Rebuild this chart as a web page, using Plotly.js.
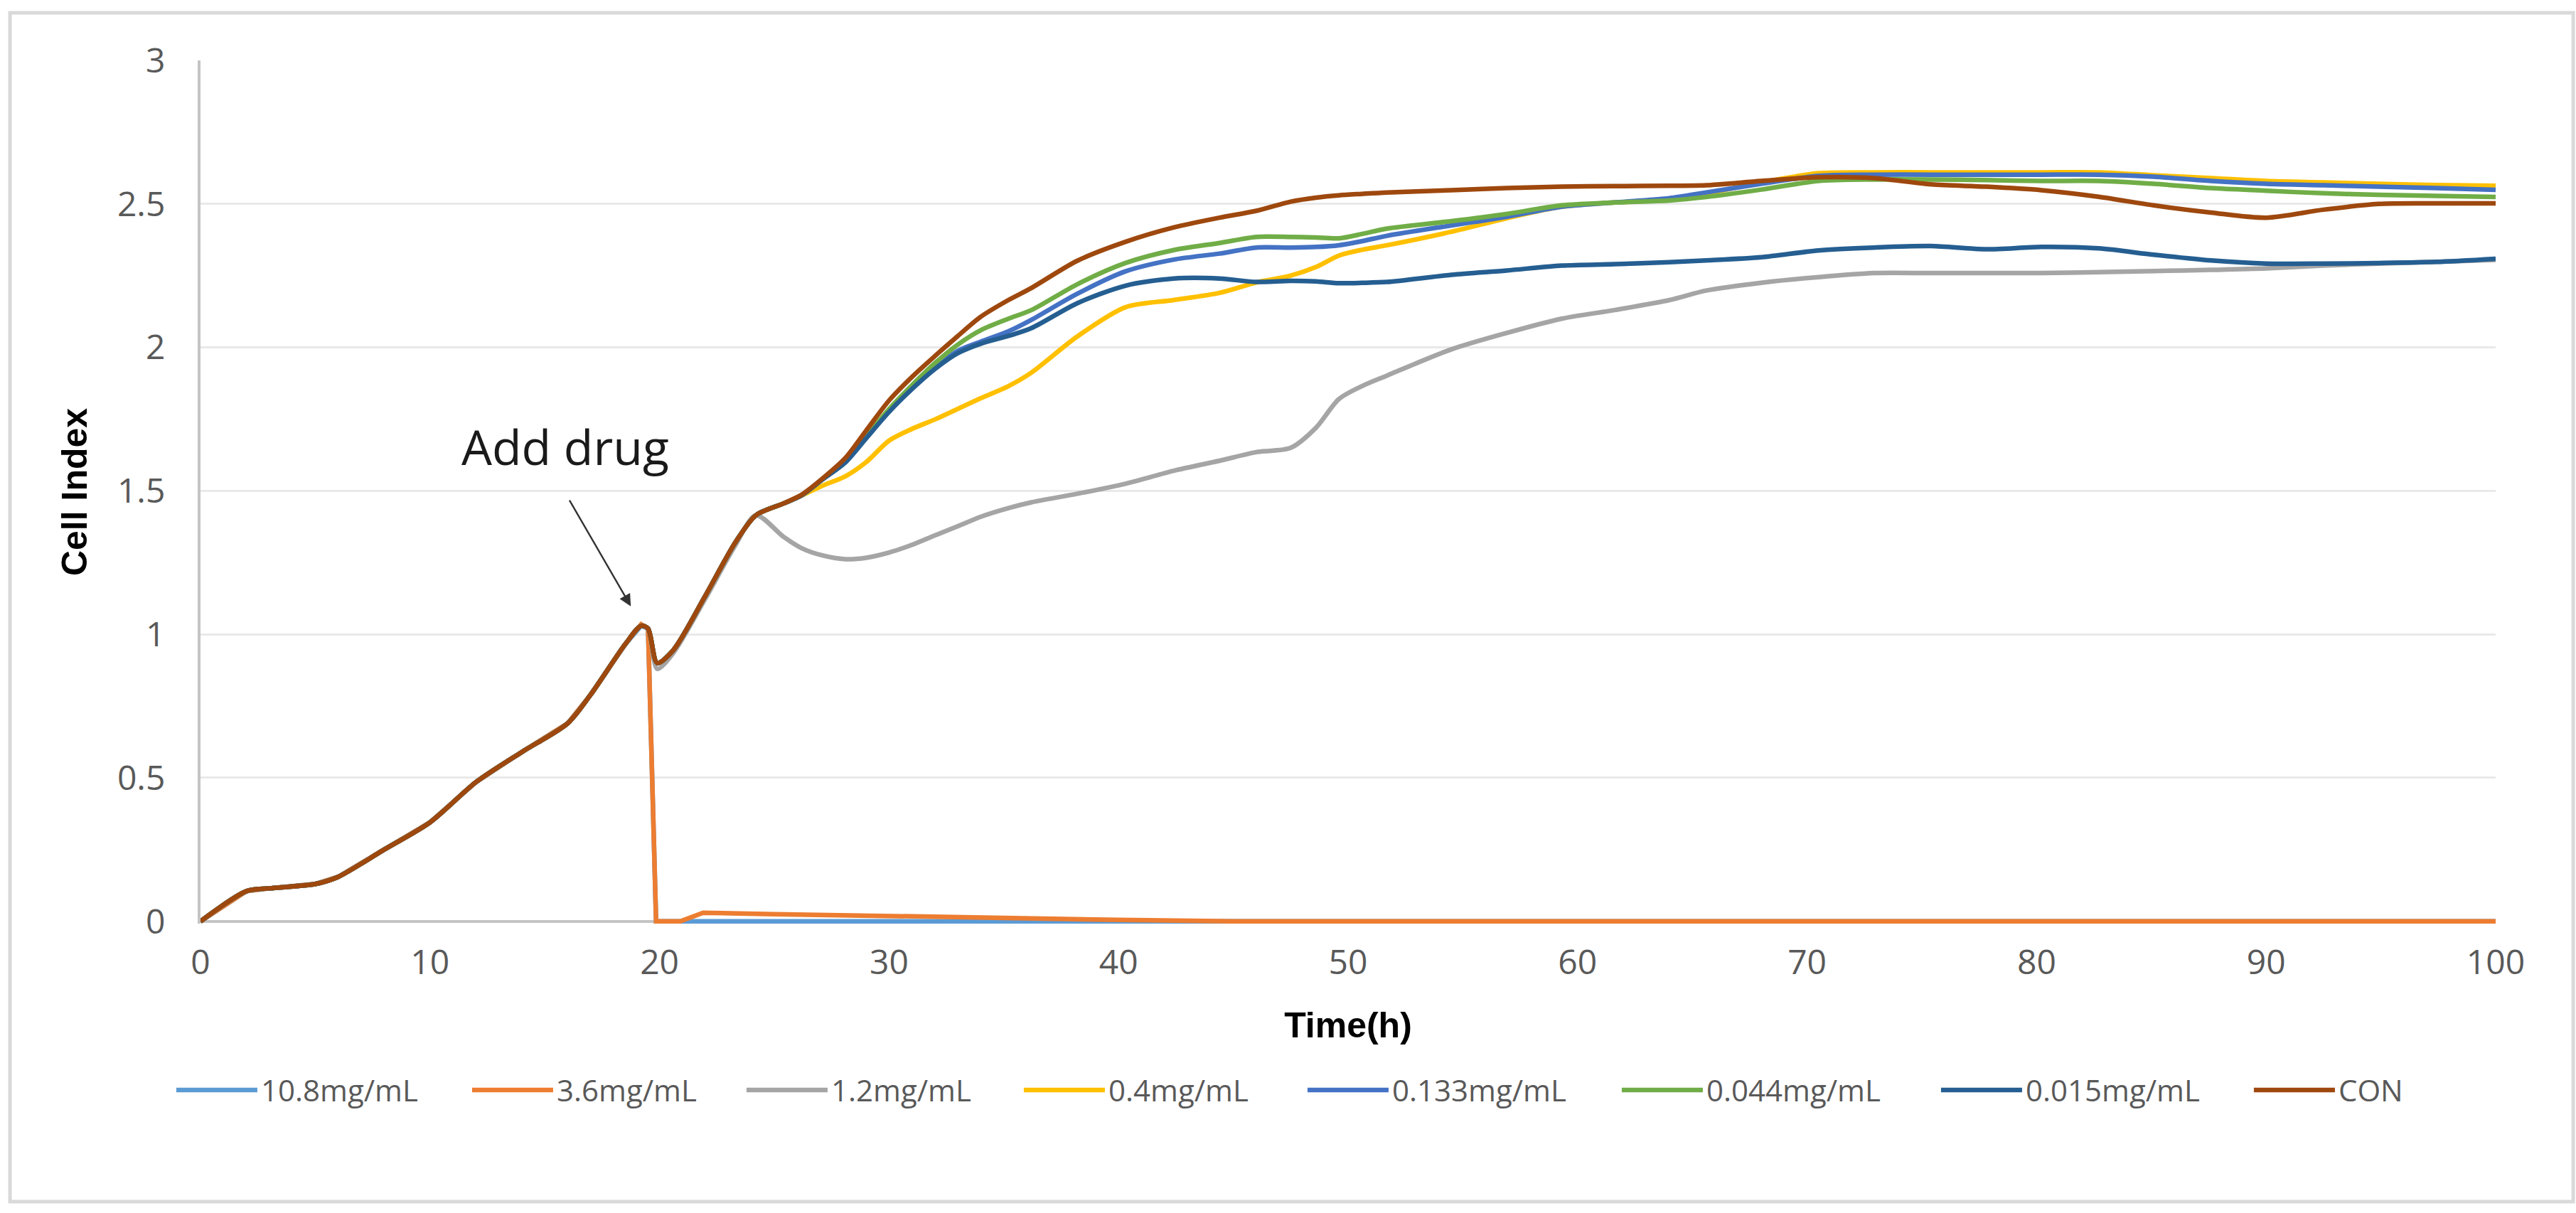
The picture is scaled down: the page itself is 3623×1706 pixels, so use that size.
<!DOCTYPE html>
<html>
<head>
<meta charset="utf-8">
<script src="https://cdn.plot.ly/plotly-3.0.1.min.js"></script>
<style>html,body{margin:0;padding:0;background:#fff;}#chart{width:3623px;height:1706px;}</style>
</head>
<body>
<div id="chart"></div>
<script>
// ---- data ----
const timeH = [0, 2, 3, 5, 6, 8, 10, 12, 14, 16, 17, 18.5, 19.2, 19.5, 19.9, 20.6, 22, 23.3, 24.2,
  25.4, 26.2, 27.1, 28.1, 29, 30, 31, 32, 33, 34, 35.2, 36.2, 38.2, 40.3, 42.4, 44.4, 46, 47.5, 48.6, 49.6, 50.6, 51.7,
  54.5, 56.9, 59.3, 61.6, 64, 65.6, 68, 70.5, 72.9, 75.4, 77.8, 80.2, 82.7, 85.1, 87.6, 90, 92.5, 94.9, 97.4, 100];

const timeToxic = [0, 2, 3, 5, 6, 8, 10, 12, 14, 16, 17, 18.5, 19.2, 19.5, 19.85, 20.9, 21.9, 25, 30, 35, 40, 45, 50, 60, 70, 80, 90, 100];

const conc10_8 = [0, 0.105, 0.115, 0.13, 0.155, 0.25, 0.345, 0.485, 0.59, 0.69, 0.79, 0.965, 1.03, 1.02,
  0, 0, 0, 0, 0, 0, 0, 0, 0, 0, 0, 0, 0, 0];
const conc3_6 = [0, 0.105, 0.115, 0.13, 0.155, 0.25, 0.345, 0.485, 0.59, 0.69, 0.79, 0.965, 1.035, 1.02,
  0, 0, 0.03, 0.025, 0.02, 0.012, 0.005, 0, 0, 0, 0, 0, 0, 0];

const conc1_2 = [0, 0.105, 0.115, 0.13, 0.155, 0.25, 0.345, 0.485, 0.59, 0.69, 0.79, 0.965, 1.03, 1.02,
  0.88, 0.935, 1.125, 1.31, 1.415,
  1.34, 1.30, 1.275, 1.262, 1.267, 1.285, 1.312, 1.345, 1.377, 1.41, 1.44, 1.46, 1.49, 1.525, 1.57, 1.605, 1.635, 1.65, 1.72, 1.82, 1.865, 1.902,
  1.993, 2.05, 2.10, 2.13, 2.165, 2.198, 2.225, 2.245, 2.259, 2.259, 2.259, 2.259, 2.262, 2.266, 2.27, 2.275, 2.285, 2.292, 2.298, 2.305];
const conc0_4 = [0, 0.105, 0.115, 0.13, 0.155, 0.25, 0.345, 0.485, 0.59, 0.69, 0.79, 0.965, 1.03, 1.02,
  0.9, 0.945, 1.135, 1.32, 1.415,
  1.456, 1.484, 1.518, 1.551, 1.6, 1.675, 1.716, 1.749, 1.786, 1.823, 1.865, 1.912, 2.038, 2.14, 2.165, 2.19, 2.226, 2.25, 2.28, 2.32, 2.34, 2.356,
  2.403, 2.45, 2.49, 2.505, 2.515, 2.535, 2.575, 2.607, 2.61, 2.61, 2.61, 2.61, 2.61, 2.6, 2.59, 2.58, 2.575, 2.57, 2.566, 2.563];
const conc0_133 = [0, 0.105, 0.115, 0.13, 0.155, 0.25, 0.345, 0.485, 0.59, 0.69, 0.79, 0.965, 1.03, 1.02,
  0.9, 0.945, 1.135, 1.32, 1.415,
  1.456, 1.485, 1.54, 1.6, 1.685, 1.78, 1.86, 1.93, 1.988, 2.02, 2.056, 2.096, 2.187, 2.265, 2.306, 2.327, 2.348, 2.348, 2.35, 2.356, 2.37, 2.389,
  2.425, 2.455, 2.49, 2.505, 2.52, 2.54, 2.57, 2.598, 2.602, 2.602, 2.602, 2.602, 2.602, 2.595, 2.58, 2.57, 2.565, 2.56, 2.555, 2.549];
const conc0_044 = [0, 0.105, 0.115, 0.13, 0.155, 0.25, 0.345, 0.485, 0.59, 0.69, 0.79, 0.965, 1.03, 1.02,
  0.9, 0.945, 1.135, 1.32, 1.415,
  1.456, 1.485, 1.54, 1.6, 1.69, 1.785, 1.868, 1.945, 2.01, 2.06, 2.1, 2.13, 2.22, 2.294, 2.339, 2.364, 2.385, 2.385, 2.383, 2.38, 2.395, 2.414,
  2.44, 2.465, 2.495, 2.505, 2.512, 2.524, 2.55, 2.58, 2.585, 2.585, 2.583, 2.58, 2.58, 2.57, 2.555, 2.546, 2.537, 2.532, 2.528, 2.524];
const conc0_015 = [0, 0.105, 0.115, 0.13, 0.155, 0.25, 0.345, 0.485, 0.59, 0.69, 0.79, 0.965, 1.03, 1.02,
  0.9, 0.945, 1.135, 1.32, 1.415,
  1.456, 1.485, 1.54, 1.6, 1.683, 1.775, 1.855, 1.925, 1.98, 2.013, 2.04, 2.067, 2.154, 2.215, 2.24, 2.24, 2.228, 2.232, 2.23, 2.224, 2.225, 2.228,
  2.253, 2.268, 2.285, 2.29, 2.297, 2.303, 2.314, 2.338, 2.348, 2.353, 2.342, 2.35, 2.345, 2.323, 2.303, 2.292, 2.292, 2.294, 2.298, 2.309];
const concCON = [0, 0.105, 0.115, 0.13, 0.155, 0.25, 0.345, 0.485, 0.59, 0.69, 0.79, 0.965, 1.03, 1.02,
  0.9, 0.945, 1.135, 1.32, 1.415,
  1.456, 1.487, 1.543, 1.615, 1.71, 1.815, 1.897, 1.97, 2.04, 2.107, 2.165, 2.207, 2.302, 2.368, 2.418, 2.452, 2.476, 2.508, 2.522, 2.53, 2.535, 2.54,
  2.548, 2.555, 2.56, 2.562, 2.563, 2.565, 2.58, 2.593, 2.59, 2.568, 2.56, 2.548, 2.525, 2.495, 2.47, 2.452, 2.48, 2.5, 2.502, 2.502];

const seriesNames = ['10.8mg/mL', '3.6mg/mL', '1.2mg/mL', '0.4mg/mL', '0.133mg/mL', '0.044mg/mL', '0.015mg/mL', 'CON'];
const seriesColors = ['#5B9BD5', '#ED7D31', '#A5A5A5', '#FFC000', '#4472C4', '#70AD47', '#255E91', '#9E480E'];
const legendEntryWidths = [287, 257, 261, 270, 313, 320, 311, 120];
const yTickVals = [0, 0.5, 1, 1.5, 2, 2.5, 3];
const yTickText = ['0', '0.5', '1', '1.5', '2', '2.5', '3'];
const xTickVals = [0, 10, 20, 30, 40, 50, 60, 70, 80, 90, 100];

const seriesX = [timeToxic, timeToxic, timeH, timeH, timeH, timeH, timeH, timeH];
const seriesY = [conc10_8, conc3_6, conc1_2, conc0_4, conc0_133, conc0_044, conc0_015, concCON];

const traces = seriesNames.map((n, i) => ({
  type: 'scatter', mode: 'lines', name: n,
  x: seriesX[i], y: seriesY[i],
  legendwidth: legendEntryWidths[i],
  line: {color: seriesColors[i], width: 6.5, shape: i < 2 ? 'linear' : 'spline', smoothing: 0.8},
  hoverinfo: 'skip'
}));

const tickFont = {family: 'Open Sans, Noto Sans, sans-serif', size: 48, color: '#595959'};
const titleFont = {family: 'Liberation Sans, Arial, sans-serif', size: 50, color: '#000000'};

const layout = {
  width: 3623, height: 1706,
  paper_bgcolor: '#ffffff', plot_bgcolor: '#ffffff',
  margin: {l: 282, r: 113, t: 85, b: 407},
  showlegend: true,
  legend: {
    orientation: 'h', x: -0.0121, xanchor: 'left', y: -0.193, yanchor: 'middle',
    font: {family: 'Open Sans, Noto Sans, sans-serif', size: 42, color: '#595959'},
    itemwidth: 114, traceorder: 'normal', bgcolor: 'rgba(0,0,0,0)', entrywidthmode: 'pixels'
  },
  xaxis: {
    range: [0, 100], tickvals: xTickVals, ticktext: xTickVals.map(String),
    showgrid: false, zeroline: false, showline: false, ticks: '',
    tickfont: tickFont, ticklabelstandoff: 22,
    title: {text: '<b>Time(h)</b>', font: titleFont, standoff: 40}
  },
  yaxis: {
    range: [-0.008, 3.0], tickvals: yTickVals, ticktext: yTickText,
    showgrid: true, gridcolor: '#E9E9E9', gridwidth: 3,
    zeroline: true, zerolinecolor: '#C4C4C4', zerolinewidth: 4,
    showline: true, linecolor: '#C4C4C4', linewidth: 4, ticks: '',
    tickfont: tickFont, ticklabelstandoff: 36,
    title: {text: '<b>Cell Index</b>', font: titleFont, standoff: 27}
  },
  annotations: [
    {x: 15.9, y: 1.655, xref: 'x', yref: 'y', text: 'Add drug', showarrow: false,
     font: {family: 'Open Sans, Noto Sans, sans-serif', size: 68, color: '#1a1a1a'}},
    {x: 18.75, y: 1.098, xref: 'x', yref: 'y', ax: 16.05, ay: 1.471, axref: 'x', ayref: 'y',
     text: '', showarrow: true, arrowhead: 2, arrowsize: 1.4, arrowwidth: 2.4, arrowcolor: '#333333', standoff: 0}
  ],
  shapes: [
    {type: 'rect', xref: 'paper', yref: 'paper', x0: -0.083, x1: 1.0338, y0: -0.3221, y1: 1.0552,
     line: {color: '#D9D9D9', width: 5}, fillcolor: 'rgba(0,0,0,0)', layer: 'below'}
  ]
};

Plotly.newPlot('chart', traces, layout, {staticPlot: true, displayModeBar: false});
</script>
</body>
</html>
